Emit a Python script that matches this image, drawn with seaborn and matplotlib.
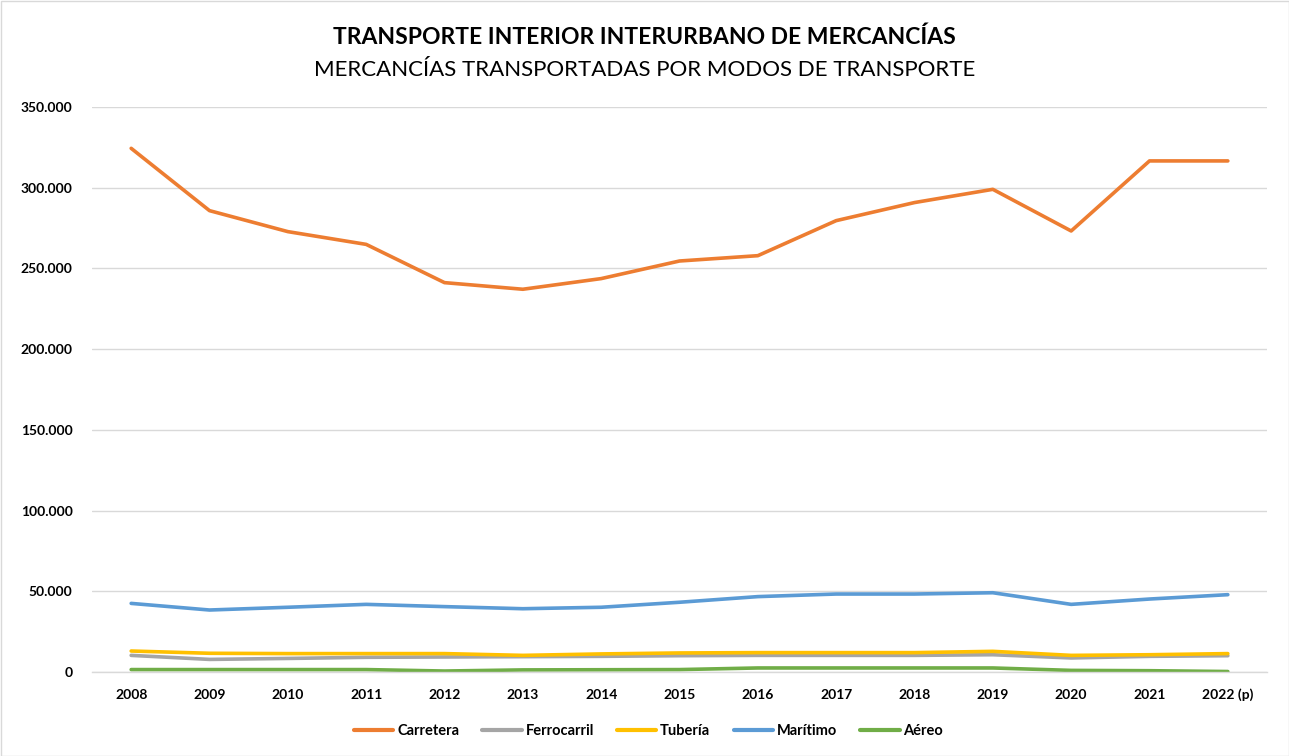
import numpy as np
import pandas as pd
import seaborn as sns
import matplotlib.pyplot as plt
from matplotlib.ticker import FuncFormatter
from matplotlib.patches import Rectangle

years = ["2008", "2009", "2010", "2011", "2012", "2013", "2014", "2015",
         "2016", "2017", "2018", "2019", "2020", "2021", "2022 (p)"]

carretera = [324400, 285800, 272800, 264900, 241200, 237100, 243700, 254600,
             257900, 279600, 290800, 299000, 273200, 316600, 316600]
ferrocarril = [10300, 7800, 8400, 9100, 9300, 9500, 9700, 10100,
               10300, 10300, 10300, 10700, 8700, 9700, 10100]
tuberia = [13000, 11600, 11400, 11400, 11400, 10300, 11200, 11800,
           12000, 12000, 12000, 12800, 10300, 10700, 11400]
maritimo = [42500, 38400, 40100, 41900, 40500, 39200, 40100, 43200,
            46700, 48300, 48300, 49100, 41900, 45200, 47900]
aereo = [1500, 1500, 1500, 1500, 600, 1300, 1400, 1500,
         2500, 2500, 2500, 2500, 1000, 800, 300]

series_names = ["Carretera", "Ferrocarril", "Tubería", "Marítimo", "Aéreo"]
series_colors = ["#ED7D31", "#A5A5A5", "#FFC000", "#5B9BD5", "#70AD47"]

title = "TRANSPORTE INTERIOR INTERURBANO DE MERCANCÍAS"
subtitle = "MERCANCÍAS TRANSPORTADAS POR MODOS DE TRANSPORTE"

df = pd.DataFrame({
    "Año": years * 5,
    "pos": list(range(len(years))) * 5,
    "Modo": sum([[n] * len(years) for n in series_names], []),
    "Valor": carretera + ferrocarril + tuberia + maritimo + aereo,
})

sns.set_theme(style="white")
plt.rcParams["font.family"] = ["Lato", "DejaVu Sans"]

fig = plt.figure(figsize=(12.89, 7.56), dpi=100)
ax = fig.add_axes([92 / 1289, 84 / 756, 1175 / 1289, 565 / 756])

sns.lineplot(data=df, x="pos", y="Valor", hue="Modo", hue_order=series_names,
             palette=series_colors, linewidth=2.6, ax=ax, legend=True,
             solid_capstyle="round")

ax.set_xlim(-0.5, len(years) - 0.5)
ax.set_ylim(0, 350000)
ax.set_yticks(np.arange(0, 350001, 50000))
ax.yaxis.set_major_formatter(FuncFormatter(
    lambda v, p: "0" if v == 0 else f"{int(v):,}".replace(",", ".")))
ax.set_xticks(range(len(years)))
ax.set_xticklabels(years)
ax.set_xlabel("")
ax.set_ylabel("")
for lab in ax.get_xticklabels() + ax.get_yticklabels():
    lab.set_fontweight("bold")
    lab.set_fontsize(10)
    lab.set_color("#000000")
ax.tick_params(axis="x", length=0, pad=12)
ax.tick_params(axis="y", length=0, pad=14)

ax.grid(axis="y", color="#D9D9D9", linewidth=1)
ax.set_axisbelow(True)
for s in ["top", "right", "left"]:
    ax.spines[s].set_visible(False)
ax.spines["bottom"].set_color("#D9D9D9")
ax.spines["bottom"].set_linewidth(1)

leg = ax.legend(loc="center", bbox_to_anchor=(0.4736, -0.104), ncol=5,
                frameon=False, fontsize=10.5, handlelength=2.7,
                handletextpad=0.25, columnspacing=1.6)
for t in leg.get_texts():
    t.set_fontweight("bold")
    t.set_color("#000000")
for h in leg.get_lines():
    h.set_linewidth(3)

fig.text(0.5, 1 - 37 / 756, title, ha="center", va="center",
         fontsize=16.5, fontweight="bold", color="#000000")
fig.text(0.5, 1 - 70 / 756, subtitle, ha="center", va="center",
         fontsize=16, color="#000000")

fig.patches.append(Rectangle((0.5 / 1289, 0.5 / 756), 1 - 1 / 1289, 1 - 1 / 756,
                             transform=fig.transFigure, fill=False,
                             edgecolor="#D9D9D9", linewidth=1))

fig.savefig("out.png", dpi=100)
